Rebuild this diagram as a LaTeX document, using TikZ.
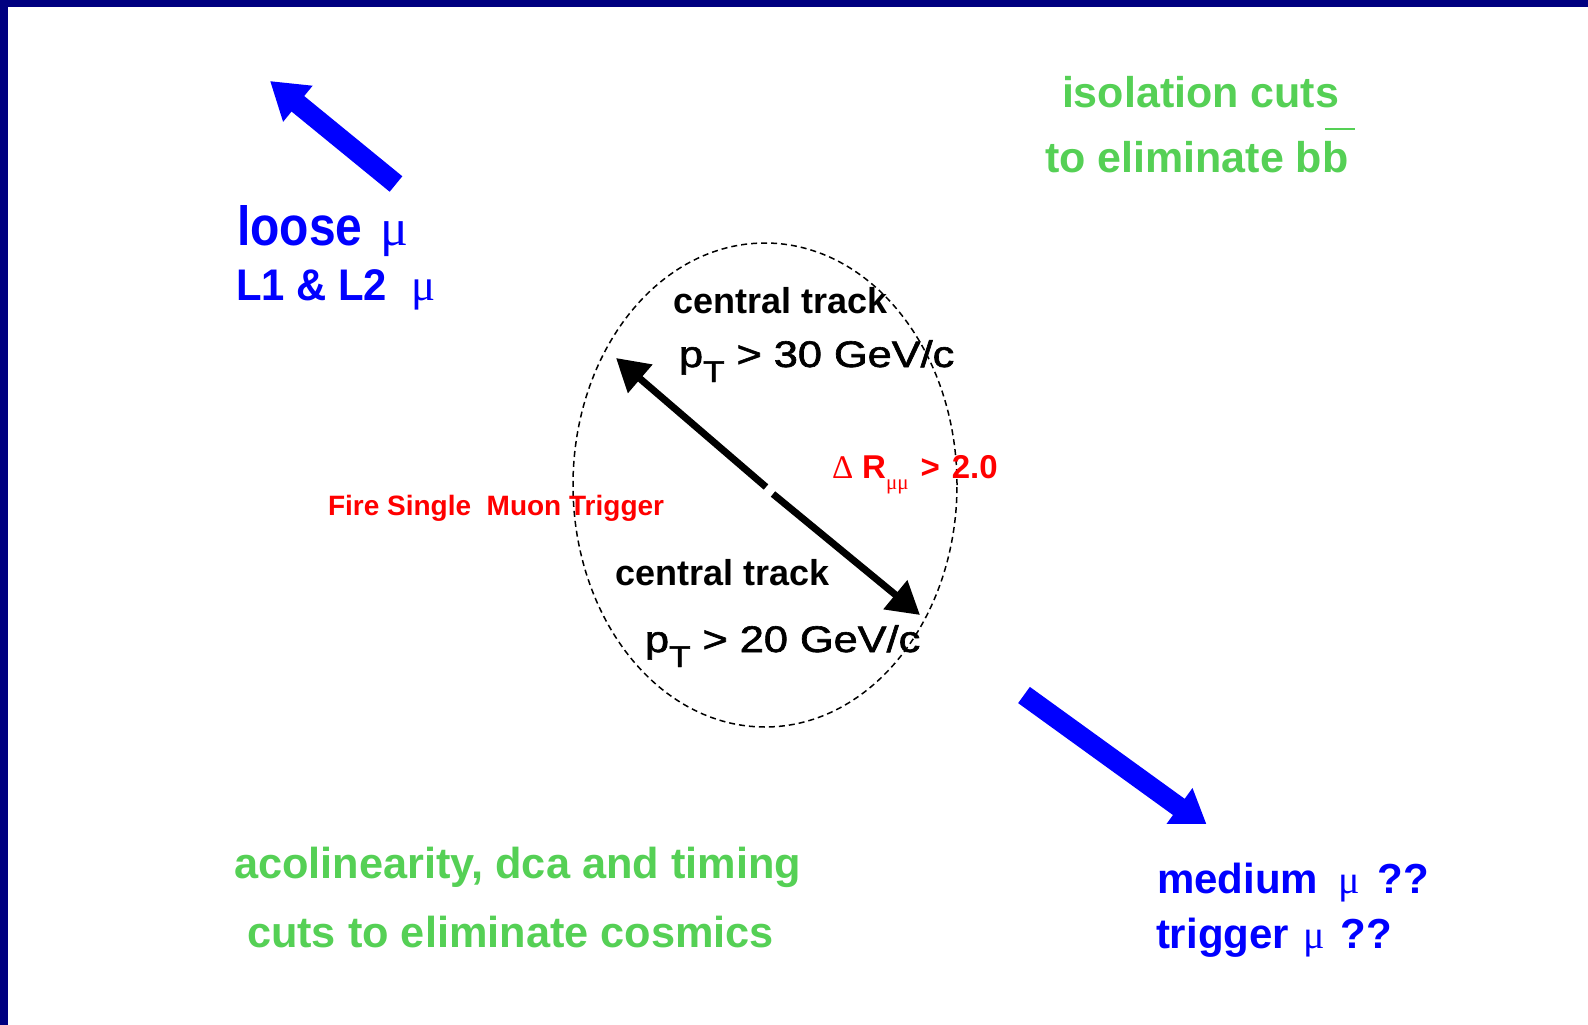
\documentclass[tikz,border=0pt]{standalone}
\usepackage{fontspec}
\setmainfont{Liberation Sans}
\newfontfamily\symf{Liberation Serif}
\newfontfamily\semib[FakeBold=1.6]{Liberation Sans}
\usetikzlibrary{arrows.meta,shapes.geometric}
\definecolor{navy}{HTML}{000080}
\definecolor{tblue}{HTML}{0000FF}
\definecolor{tgreen}{HTML}{55D055}
\definecolor{tred}{HTML}{FF0000}
\newcommand\fsz[1]{\fontsize{#1}{#1}\selectfont}
\newcommand\mymu{{\symf\mdseries μ}}
\begin{document}
\begin{tikzpicture}[x=1pt,y=-1pt,
  txt/.style={anchor=base west, inner sep=0pt, outer sep=0pt},
  bluearrow/.style={tblue, line width=20pt, -{Triangle[length=36pt,width=44pt]}},
  blackarrow/.style={black, line width=7pt, -{Triangle[length=32pt,width=36pt]}},
  region/.style={ellipse, draw, dash pattern=on 6pt off 4pt, line width=1.5pt,
    minimum width=384pt, minimum height=484pt, inner sep=0pt}]
\useasboundingbox (0,0) rectangle (1588,1025);
\fill[white] (0,0) rectangle (1588,1025);
\fill[navy] (0,0) rectangle (1588,7);
\fill[navy] (0,0) rectangle (8,1025);

% ellipse
\node[region] (ell) at (765,485) {};

% texts
\node[txt, text=tgreen, font=\bfseries\fsz{43}] (iso) at (1062,107) {isolation cuts};
\node[txt, text=tgreen, font=\bfseries\fsz{43}] (elim) at (1045,172)
  {to eliminate b\rlap{\hspace{3pt}\rule[42pt]{30pt}{2.5pt}}b};

\node[txt, text=tblue, font=\bfseries\fsz{48}] (loose) at (237,245)
  {\scalebox{1}[1.15]{loose}\hspace{18pt}{\fsz{52}\mymu}};
\node[txt, text=tblue, font=\bfseries\fsz{41}] (l1l2) at (236,300)
  {\scalebox{1.02}[1.08]{L1 \& L2}\hspace{24pt}{\fsz{45}\mymu}};

\node[txt, text=tred, font=\bfseries\fsz{28}] (fire) at (328,515) {Fire Single\ \ Muon Trigger};
\node[txt, text=tred, font=\bfseries\fsz{33}] (dr) at (832,478)
  {{\symf\mdseries Δ}\hspace{9pt}R\raisebox{-11pt}{\symf\mdseries\fsz{21}μμ}\hspace{12pt}>\hspace{12pt}2.0};

\node[txt, font=\bfseries\fsz{36}] (ct1) at (673,313) {central track};
\node[txt, font=\semib\fsz{37}] (pt1) at (679,367)
  {\scalebox{1.17}[1]{p\raisebox{-15pt}{\fsz{30}T} > 30 GeV/c}};
\node[txt, font=\bfseries\fsz{36}] (ct2) at (615,585) {central track};
\node[txt, font=\semib\fsz{37}] (pt2) at (645,652)
  {\scalebox{1.17}[1]{p\raisebox{-15pt}{\fsz{30}T} > 20 GeV/c}};

\node[txt, text=tblue, font=\bfseries\fsz{42}] (med) at (1157,893)
  {medium\hspace{20pt}{\fsz{40}\mymu}\hspace{18pt}??};
\node[txt, text=tblue, font=\bfseries\fsz{42}] (trig) at (1156,948)
  {trigger\hspace{14pt}{\fsz{40}\mymu}\hspace{16pt}??};

\node[txt, text=tgreen, font=\bfseries\fsz{43.3}] (acol) at (234,878) {acolinearity, dca and timing};
\node[txt, text=tgreen, font=\bfseries\fsz{43.3}] (cosm) at (247,947) {cuts to eliminate cosmics};

% black arrows
\coordinate (c1) at (766,487);
\coordinate (c2) at (773,494);
\coordinate (tl) at (616,358);
\coordinate (br) at (920,615);
\draw[blackarrow] (c1) -- (tl);
\draw[blackarrow] (c2) -- (br);

% blue arrows
\coordinate (bt1) at (396,184);
\coordinate (bh1) at (270,81);
\draw[bluearrow] (bt1) -- (bh1);
\coordinate (bt2) at (1024,695);
\coordinate (bh2) at (1208,828);
\begin{scope}
  \clip (0,0) rectangle (1588,823);
  \draw[bluearrow] (bt2) -- (bh2);
\end{scope}
\end{tikzpicture}
\end{document}
